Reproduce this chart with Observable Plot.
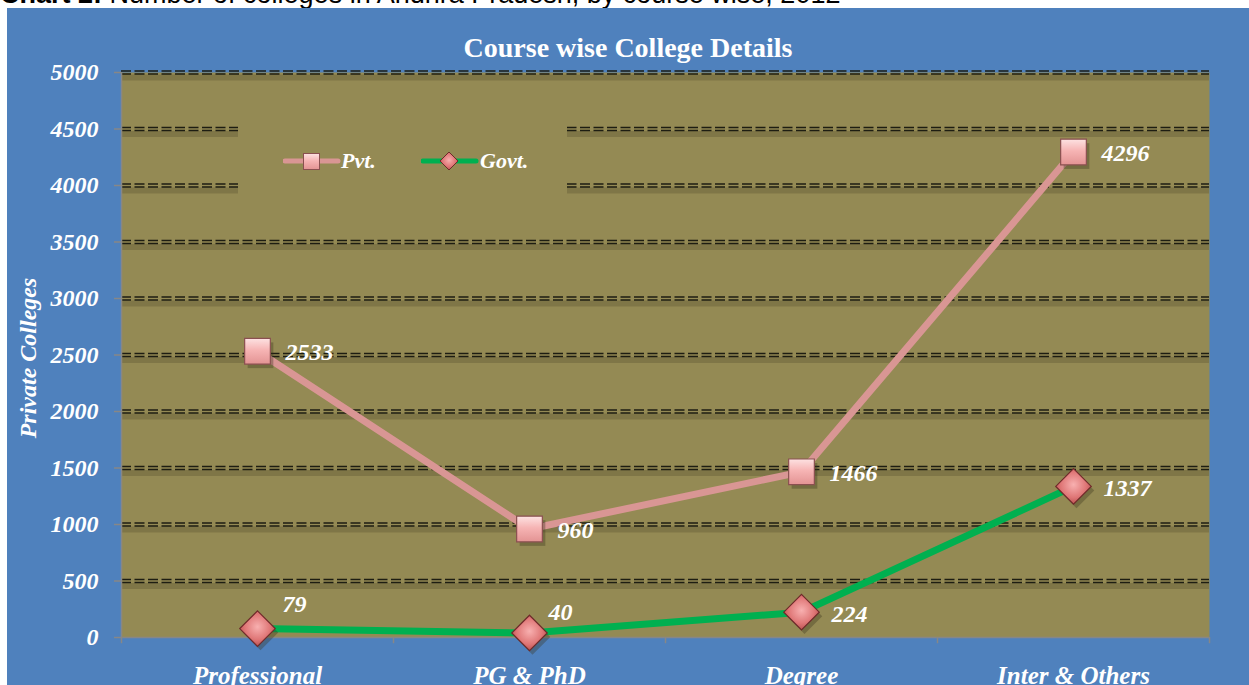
<!DOCTYPE html>
<html>
<head>
<meta charset="utf-8">
<script src="https://cdn.jsdelivr.net/npm/d3@7"></script>
<script src="https://cdn.jsdelivr.net/npm/@observablehq/plot@0.6"></script>
<style>
  html, body { margin: 0; padding: 0; background: #ffffff; overflow: hidden; }
  body { width: 1249px; height: 685px; position: relative; }
  #caption { position: absolute; left: 0; top: -19px; font: 27px/27px "Liberation Sans", Arial, sans-serif; color: #000; white-space: nowrap; }
  #panel { position: absolute; left: 7px; top: 8px; width: 1242px; height: 677px; background: #4F81BD; overflow: hidden; }
  #title { position: absolute; left: 0; top: 26px; width: 100%; text-align: center; font: bold 28px/28px "Liberation Serif", "Times New Roman", serif; color: #fff; z-index: 3; }
  #legend { position: absolute; left: 231px; top: 112px; width: 329px; height: 78px; background: #948A54; z-index: 3; }
  #legend .sw { position: absolute; top: 29px; }
  #legend .lab { position: absolute; top: 27px; font: italic bold 22px/28px "Liberation Serif", "Times New Roman", serif; color: #fff; }
  #chart svg { display: block; }
</style>
</head>
<body>
<div id="caption"><b>Chart 2:</b> Number of colleges in Andhra Pradesh, by course wise, 2012</div>
<div id="panel">
  <div id="title">Course wise College Details</div>
  <div id="legend"></div>
  <div id="chart"></div>
</div>
<script>
const categories = ["Professional", "PG & PhD", "Degree", "Inter & Others"];
const pvtValues = [2533, 960, 1466, 4296];
const govtValues = [79, 40, 224, 1337];
const yTicks = [0, 500, 1000, 1500, 2000, 2500, 3000, 3500, 4000, 4500, 5000];
const seriesNames = ["Pvt.", "Govt."];
const yLabel = "Private Colleges";

const pvt = categories.map((c, i) => ({category: c, value: pvtValues[i]}));
const govt = categories.map((c, i) => ({category: c, value: govtValues[i]}));
const gridTicks = yTicks.filter(t => t > 0);

const W = 1242, H = 677, mL = 114, mR = 40, mT = 64, mB = 48;
const halfStep = (W - mL - mR) / categories.length / 2;
const serif = "'Liberation Serif', 'Times New Roman', serif";
const axisGray = "#878787";
const pink = "#D99694";
const green = "#00B050";
const gridDash = "10,3.5";

const labelStyle = {fill: "white", fontSize: 24, fontWeight: "bold", fontStyle: "italic", fontFamily: serif};

const plot = Plot.plot({
  width: W, height: H,
  marginLeft: mL, marginRight: mR, marginTop: mT, marginBottom: mB,
  style: {background: "transparent", color: "white", fontFamily: serif, overflow: "visible"},
  x: {type: "point", domain: categories, padding: 0.5, axis: null},
  y: {domain: [0, 5000], axis: null},
  marks: [
    Plot.frame({fill: "#948A54", stroke: null}),
    // gridline shadows
    Plot.ruleY(gridTicks, {stroke: "#4f4a2a", strokeOpacity: 0.3, strokeWidth: 6, dy: 5}),
    // double dashed gridlines
    Plot.ruleY(gridTicks, {stroke: "#1d1d12", strokeWidth: 1.4, strokeDasharray: gridDash, dy: -1.5}),
    Plot.ruleY(gridTicks, {stroke: "#1d1d12", strokeWidth: 1.4, strokeDasharray: gridDash, dy: 1.5}),
    // axis lines
    Plot.ruleY([0], {stroke: axisGray, strokeWidth: 1.5}),
    Plot.ruleX(categories.slice(0, 1), {x: d => d, dx: -halfStep, y1: 0, y2: 5000, stroke: axisGray, strokeWidth: 1.5}),
    Plot.ruleX(categories, {x: d => d, dx: -halfStep, y1: 0, y2: -55, stroke: axisGray, strokeWidth: 1.5}),
    Plot.ruleX(categories.slice(-1), {x: d => d, dx: halfStep, y1: 0, y2: -55, stroke: axisGray, strokeWidth: 1.5}),
    Plot.axisY({ticks: yTicks, tickSize: 7, tickPadding: 16, stroke: axisGray, strokeWidth: 1.5,
      fill: "white", fontSize: 24, fontWeight: "bold", fontStyle: "italic", fontFamily: serif,
      tickFormat: d => String(d), label: null}),
    Plot.axisX({tickSize: 0, tickPadding: 29, fill: "white", fontSize: 25, fontWeight: "bold",
      fontStyle: "italic", fontFamily: serif, label: null}),
    Plot.text([yLabel], {frameAnchor: "left", text: d => d, rotate: -90, dx: -93, dy: 3,
      textAnchor: "middle", lineAnchor: "middle",
      fill: "white", fontSize: 24, fontWeight: "bold", fontStyle: "italic", fontFamily: serif}),
    // lines
    Plot.line(pvt, {x: "category", y: "value", stroke: pink, strokeWidth: 7, strokeLinejoin: "round", strokeLinecap: "round"}),
    Plot.line(govt, {x: "category", y: "value", stroke: green, strokeWidth: 7, strokeLinejoin: "round", strokeLinecap: "round"}),
    // marker shadows
    Plot.dot(pvt, {x: "category", y: "value", symbol: "square", r: 14.5, fill: "#3a351c", fillOpacity: 0.35, dx: 3, dy: 4}),
    Plot.dot(govt, {x: "category", y: "value", symbol: "diamond2", r: 16, fill: "#3a351c", fillOpacity: 0.35, dx: 3, dy: 4}),
    // markers
    Plot.dot(pvt, {x: "category", y: "value", symbol: "square", r: 14.5, fill: "url(#sqGrad)", stroke: "#8a5050", strokeWidth: 1.2}),
    Plot.dot(govt, {x: "category", y: "value", symbol: "diamond2", r: 16, fill: "url(#dmGrad)", stroke: "#6e2a2a", strokeWidth: 1.2}),
    // value labels
    Plot.text(pvt, {x: "category", y: "value", text: d => String(d.value), dx: 28, dy: 1, textAnchor: "start", ...labelStyle}),
    Plot.text(govt.slice(0, 1), {x: "category", y: "value", text: d => String(d.value), dx: 25, dy: -24, textAnchor: "start", ...labelStyle}),
    Plot.text(govt.slice(1, 2), {x: "category", y: "value", text: d => String(d.value), dx: 19, dy: -21, textAnchor: "start", ...labelStyle}),
    Plot.text(govt.slice(2), {x: "category", y: "value", text: d => String(d.value), dx: 30, dy: 2, textAnchor: "start", ...labelStyle})
  ]
});

const defs = `
<linearGradient id="sqGrad" x1="0" y1="0" x2="0" y2="1">
  <stop offset="0" stop-color="#fde2e2"/>
  <stop offset="0.45" stop-color="#f6b4b4"/>
  <stop offset="1" stop-color="#e39393"/>
</linearGradient>
<radialGradient id="dmGrad" cx="0.5" cy="0.45" r="0.6">
  <stop offset="0" stop-color="#f8b0b0"/>
  <stop offset="0.6" stop-color="#df7676"/>
  <stop offset="1" stop-color="#b24848"/>
</radialGradient>`;
const d = document.createElementNS("http://www.w3.org/2000/svg", "defs");
d.innerHTML = defs;
plot.insertBefore(d, plot.firstChild);
document.getElementById("chart").appendChild(plot);

// legend
const legend = document.getElementById("legend");
legend.innerHTML = `
<svg class="sw" style="left:45px" width="58" height="24">
  <defs>
    <linearGradient id="lgSq" x1="0" y1="0" x2="0" y2="1"><stop offset="0" stop-color="#fde2e2"/><stop offset="0.45" stop-color="#f6b4b4"/><stop offset="1" stop-color="#e39393"/></linearGradient>
    <radialGradient id="lgDm" cx="0.5" cy="0.45" r="0.6"><stop offset="0" stop-color="#f8b0b0"/><stop offset="0.6" stop-color="#df7676"/><stop offset="1" stop-color="#b24848"/></radialGradient>
  </defs>
  <line x1="2" y1="12" x2="55" y2="12" stroke="${pink}" stroke-width="5" stroke-linecap="round"/>
  <rect x="20.5" y="4.5" width="16" height="16" fill="url(#lgSq)" stroke="#8a5050" stroke-width="1"/>
</svg>
<div class="lab" style="left:103px">${seriesNames[0]}</div>
<svg class="sw" style="left:183px" width="58" height="24">
  <line x1="2" y1="12" x2="55" y2="12" stroke="${green}" stroke-width="5" stroke-linecap="round"/>
  <path d="M28,3 L37,12 L28,21 L19,12 Z" fill="url(#lgDm)" stroke="#6e2a2a" stroke-width="1"/>
</svg>
<div class="lab" style="left:242px">${seriesNames[1]}</div>`;
</script>
</body>
</html>
